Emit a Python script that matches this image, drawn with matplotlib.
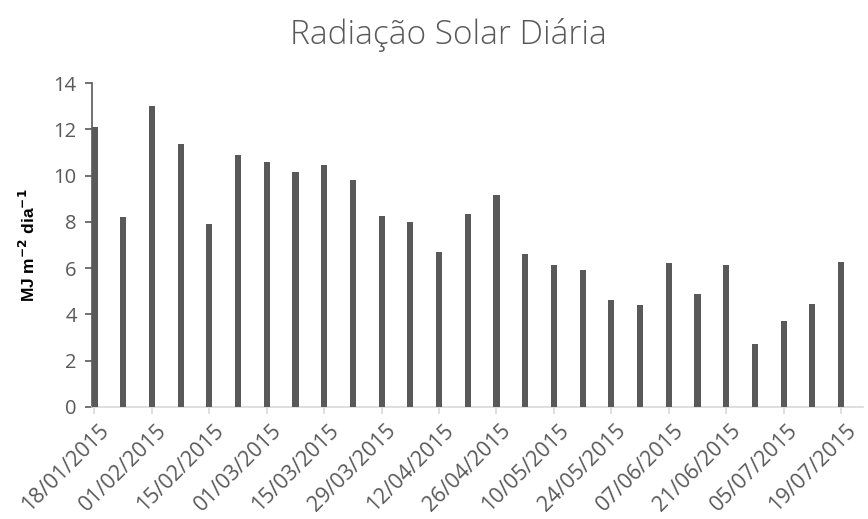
import matplotlib
matplotlib.use("Agg")
import matplotlib.pyplot as plt
import matplotlib.dates as mdates
import matplotlib.transforms as mtransforms
import numpy as np
import datetime as dt

start_date = "2015-01-18"
n_weeks = 27
values = [12.1, 8.2, 13.0, 11.35, 7.9, 10.9, 10.6, 10.15, 10.45, 9.8,
          8.25, 8.0, 6.7, 8.35, 9.15, 6.6, 6.15, 5.9, 4.6, 4.4,
          6.2, 4.9, 6.15, 2.7, 3.7, 4.45, 6.25]
y_ticks = [0, 2, 4, 6, 8, 10, 12, 14]
title = "Radiação Solar Diária"
ylabel = r"MJ m$^{\mathbf{-2}}$ dia$^{\mathbf{-1}}$"

d0 = dt.datetime.strptime(start_date, "%Y-%m-%d")
dates = [d0 + dt.timedelta(days=7 * i) for i in range(n_weeks)]
tick_dates = [d0 + dt.timedelta(days=14 * i) for i in range(14)]

plt.rcParams['font.family'] = ['Open Sans', 'DejaVu Sans']
fig = plt.figure(figsize=(8.68, 5.19), dpi=100)
ax = fig.add_axes([0.106, 0.216, 0.888, 0.624])

ax.bar(dates, values, width=1.5, color="#595959", zorder=3)

ax.set_xlim(mdates.date2num(dates[0]) - 0.6, mdates.date2num(dates[-1]) + 5.3)
ax.set_ylim(0, 14)
ax.set_yticks(y_ticks)
ax.set_yticklabels([str(v) for v in y_ticks], fontsize=14.5, color="#595959")
ax.set_xticks(tick_dates)
ax.set_xticklabels([])

base = mtransforms.blended_transform_factory(ax.transData, ax.transAxes)
offset = mtransforms.ScaledTranslation(4 / 100, -13 / 100, fig.dpi_scale_trans)
for d in tick_dates:
    ax.text(d, 0, d.strftime("%d/%m/%Y"), transform=base + offset,
            rotation=45, ha="right", va="top", rotation_mode="anchor",
            fontsize=15.5, color="#595959", clip_on=False)

for s in ["top", "right"]:
    ax.spines[s].set_visible(False)
ax.spines["left"].set_color("#595959")
ax.spines["left"].set_linewidth(1.2)
ax.spines["bottom"].set_color("#d9d9d9")
ax.spines["bottom"].set_linewidth(1.2)
ax.tick_params(axis="y", length=5, width=1.2, color="#595959", pad=6)
ax.tick_params(axis="x", length=5, width=1.2, color="#d9d9d9", pad=3)

ax.set_ylabel(ylabel, fontsize=12.5, fontweight="bold", color="black",
              family=["Liberation Sans", "DejaVu Sans"], labelpad=11)
fig.text(0.517, 0.933, title, ha="center", va="center", fontsize=24,
         color="#595959", fontweight="light")

fig.savefig("out.png", dpi=100)
